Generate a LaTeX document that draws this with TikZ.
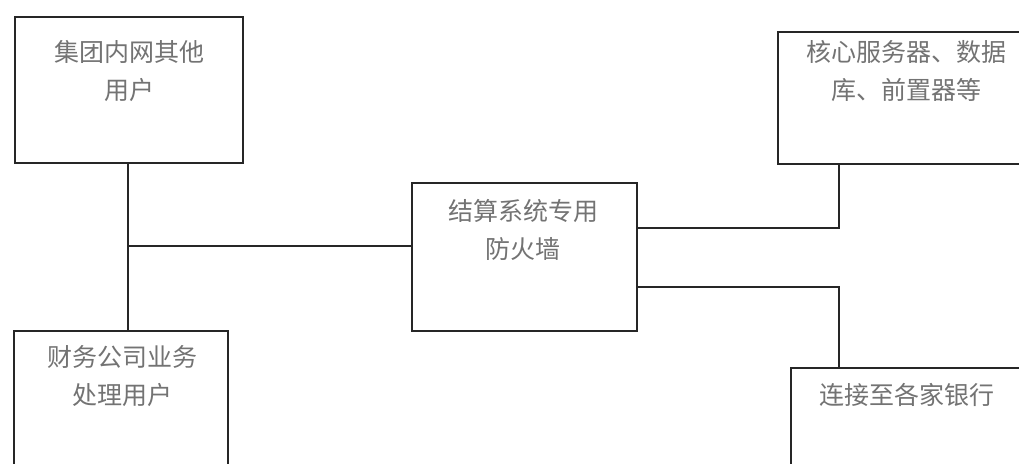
\documentclass[tikz,border=0pt]{standalone}
\usepackage{fontspec}
\newfontfamily\cjk{Noto Sans CJK SC}
\begin{document}
\begin{tikzpicture}[x=1pt,y=-1pt,
  boxstyle/.style={draw=black!85,line width=2.2pt,inner sep=0pt},
  txt/.style={text=black!55,font=\cjk\fontsize{25}{38}\selectfont,align=center,inner sep=0pt},
  conn/.style={draw=black!85,line width=2pt}]
\useasboundingbox (0,0) rectangle (1019,463);
\clip (0,0) rectangle (1019,463);
\fill[white] (0,0) rectangle (1019,463);
% boxes
\node[boxstyle,minimum width=228pt,minimum height=146pt] (b1) at (129,90) {};
\node[boxstyle,minimum width=214pt,minimum height=150pt] (b4) at (121,406) {};
\node[boxstyle,minimum width=225pt,minimum height=148pt] (fw) at (524.5,257) {};
\node[boxstyle,minimum width=262pt,minimum height=132pt] (b2) at (909,98) {};
\node[boxstyle,minimum width=249pt,minimum height=150pt] (b5) at (915.5,443) {};
% texts
\node[txt] (t1) at (129,71) {集团内网其他\\用户};
\node[txt] (t2) at (906,71.5) {核心服务器、数据\\库、前置器等};
\node[txt] (t3) at (523,229.5) {结算系统专用\\防火墙};
\node[txt] (t4) at (122,376) {财务公司业务\\处理用户};
\node[txt] (t5) at (907,395) {连接至各家银行};
% connectors
\coordinate (j) at (128,246);
\coordinate (r1) at (839,228);
\coordinate (r2) at (839,287);
\draw[conn] (b1.south -| j) -- (b4.north -| j);
\draw[conn] (j) -- (fw.west |- j);
\draw[conn] (fw.east |- r1) -- (r1) -- (b2.south -| r1);
\draw[conn] (fw.east |- r2) -- (r2) -- (b5.north -| r2);
\end{tikzpicture}
\end{document}
